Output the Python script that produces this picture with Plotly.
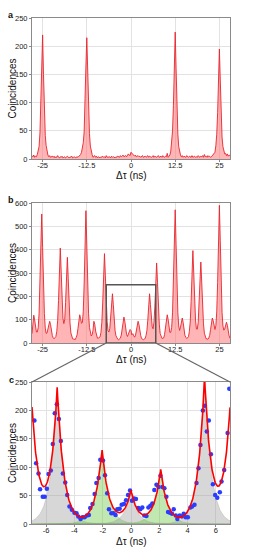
import numpy as np
import plotly.graph_objects as go

# ---------------- data ----------------
# panels a and b: histogram counts, 0.25 ns bins starting at -28 ns (rows of 2 ns)
bin_start = -28.0
bin_step = 0.25
counts_a = [
    6, 4, 7, 3, 5, 4, 8, 13,
    22, 46, 95, 175, 220, 150, 88, 42,
    24, 13, 7, 4, 6, 3, 4, 5,
    3, 5, 2, 4, 3, 6, 3, 2,
    4, 3, 5, 2, 3, 4, 2, 3,
    5, 3, 2, 4, 3, 5, 2, 3,
    4, 2, 3, 4, 3, 5, 5, 8,
    12, 19, 29, 48, 90, 165, 215, 150,
    88, 45, 23, 12, 8, 3, 4, 6,
    3, 5, 2, 4, 3, 2, 4, 3,
    5, 3, 4, 2, 6, 3, 4, 3,
    4, 2, 5, 3, 4, 3, 2, 4,
    3, 5, 4, 3, 6, 4, 5, 7,
    4, 5, 6, 4, 8, 9, 7, 6,
    12, 10, 8, 6, 5, 7, 4, 5,
    6, 4, 5, 3, 4, 6, 3, 4,
    5, 3, 4, 6, 3, 5, 4, 3,
    4, 6, 3, 5, 4, 3, 5, 6,
    3, 4, 5, 3, 6, 4, 3, 5,
    4, 10, 3, 5, 7, 14, 28, 50,
    95, 175, 225, 160, 92, 44, 22, 11,
    7, 4, 6, 3, 5, 4, 3, 6,
    4, 3, 5, 4, 3, 6, 3, 4,
    5, 3, 4, 3, 6, 4, 3, 5,
    4, 6, 3, 8, 4, 5, 3, 6,
    4, 5, 3, 4, 6, 7, 9, 12,
    24, 44, 82, 150, 195, 140, 82, 39,
    22, 12, 9, 10, 6, 9, 5, 7,
    6,
]
counts_b = [
    40, 97, 119, 99, 66, 47, 47, 66,
    125, 243, 411, 553, 410, 244, 126, 64,
    41, 43, 57, 80, 93, 79, 50, 32,
    22, 18, 23, 28, 49, 95, 182, 305,
    407, 308, 190, 106, 83, 100, 174, 278,
    367, 276, 165, 86, 43, 27, 18, 17,
    14, 15, 24, 35, 62, 96, 121, 104,
    84, 88, 136, 253, 422, 567, 420, 251,
    125, 67, 44, 30, 35, 54, 93, 80,
    51, 29, 21, 21, 22, 26, 45, 89,
    172, 289, 383, 288, 173, 93, 53, 47,
    62, 103, 167, 211, 164, 100, 52, 31,
    19, 16, 14, 18, 21, 34, 57, 92,
    111, 93, 60, 37, 28, 40, 54, 58,
    53, 35, 40, 27, 25, 31, 53, 78,
    93, 79, 49, 32, 19, 17, 14, 17,
    19, 32, 54, 98, 163, 211, 165, 107,
    69, 61, 89, 158, 261, 343, 258, 157,
    81, 41, 28, 20, 20, 22, 37, 62,
    99, 121, 101, 70, 45, 46, 67, 129,
    252, 422, 571, 422, 255, 129, 73, 54,
    68, 96, 107, 88, 55, 33, 25, 19,
    22, 27, 49, 90, 178, 295, 396, 298,
    180, 99, 60, 59, 88, 163, 264, 347,
    262, 156, 82, 42, 26, 18, 18, 16,
    22, 32, 58, 87, 107, 95, 68, 58,
    75, 133, 260, 439, 590, 438, 261, 132,
    73, 55, 60, 82, 89, 76, 49, 31,
    20,
]

# panel c: measured points
c_tau = [-6.83, -6.71, -6.54, -6.43, -6.24, -6.10, -5.95, -5.83, -5.67, -5.53,
         -5.39, -5.24, -5.10, -4.96, -4.82, -4.65, -4.51, -4.35, -4.18, -4.00,
         -3.85, -3.73, -3.57, -3.43, -3.28, -3.12, -2.98, -2.88, -2.72, -2.57,
         -2.45, -2.29, -2.17, -1.98, -1.84, -1.68, -1.56, -1.39, -1.23, -1.09,
         -0.97, -0.80, -0.66, -0.50, -0.35, -0.21, -0.07, 0.07, 0.21, 0.35,
         0.52, 0.66, 0.80, 0.94, 1.09, 1.23, 1.37, 1.51, 1.65, 1.80,
         1.94, 2.08, 2.22, 2.36, 2.50, 2.62, 2.76, 2.90, 3.02, 3.17,
         3.28, 3.45, 3.59, 3.73, 3.87, 4.02, 4.20, 4.32, 4.49, 4.63,
         4.77, 4.91, 5.08, 5.22, 5.36, 5.50, 5.65, 5.79, 5.95, 6.10,
         6.28, 6.40, 6.59, 6.83, 6.95]
c_counts = [182, 107, 89, 61, 48, 48, 62, 88, 94, 141,
            195, 211, 185, 146, 89, 73, 51, 31, 25, 20,
            19, 13, 9, 12, 12, 15, 16, 28, 35, 53,
            72, 81, 113, 112, 86, 54, 26, 19, 19, 16,
            26, 27, 34, 35, 42, 51, 59, 41, 45, 44,
            28, 26, 29, 15, 14, 29, 32, 36, 60, 69,
            65, 85, 65, 63, 48, 21, 20, 18, 26, 15,
            9, 15, 13, 18, 12, 12, 29, 31, 34, 72,
            98, 139, 200, 208, 163, 182, 123, 70, 51, 46,
            56, 75, 95, 160, 238]

# panel c: fitted peaks (centre ns, amplitude counts, component colour)
fit_centers = [-7.3, -5.22, -2.05, 0.0, 2.1, 5.2, 7.25]
fit_amps = [380, 236, 132, 57, 95, 255, 340]
fit_kind = ["none", "gray", "green", "gray", "green", "gray", "none"]
fit_decay = 0.47  # ns

xticks_ab = [-25, -12.5, 0, 12.5, 25]
xticklabels_ab = ["-25", "-12.5", "0", "12.5", "25"]
xticks_c = [-6, -4, -2, 0, 2, 4, 6]
xticklabels_c = ["-6", "-4", "-2", "0", "2", "4", "6"]

# ---------------- figure ----------------
W, H = 256, 551
FONT = "Liberation Sans, Arial, sans-serif"

xa = bin_start + bin_step * np.arange(len(counts_a))
xb = bin_start + bin_step * np.arange(len(counts_b))

line_red = "#e8242c"
fill_pink = "rgba(255,120,120,0.55)"

fig = go.Figure()
fig.add_trace(go.Scatter(x=xa, y=counts_a, mode="lines", fill="tozeroy",
                         line=dict(color=line_red, width=0.9), fillcolor=fill_pink,
                         xaxis="x", yaxis="y"))
fig.add_trace(go.Scatter(x=xb, y=counts_b, mode="lines", fill="tozeroy",
                         line=dict(color=line_red, width=0.9), fillcolor=fill_pink,
                         xaxis="x2", yaxis="y2"))

tfit = np.linspace(-7, 7, 701)
total = np.zeros_like(tfit)
for c, a, k in zip(fit_centers, fit_amps, fit_kind):
    comp = a * np.exp(-np.abs(tfit - c) / fit_decay)
    total += comp
    if k == "gray":
        fig.add_trace(go.Scatter(x=tfit, y=comp, mode="lines", fill="tozeroy",
                                 line=dict(color="rgba(150,150,150,0.6)", width=0.5),
                                 fillcolor="rgba(160,160,160,0.42)",
                                 xaxis="x3", yaxis="y3"))
    elif k == "green":
        fig.add_trace(go.Scatter(x=tfit, y=comp, mode="lines", fill="tozeroy",
                                 line=dict(color="rgba(100,190,60,0.6)", width=0.5),
                                 fillcolor="rgba(110,200,70,0.42)",
                                 xaxis="x3", yaxis="y3"))

fig.add_trace(go.Scatter(x=c_tau, y=c_counts, mode="markers",
                         marker=dict(color="#2a3cff", size=4.5),
                         xaxis="x3", yaxis="y3"))
fig.add_trace(go.Scatter(x=tfit, y=total, mode="lines",
                         line=dict(color="#ff0000", width=1.6),
                         xaxis="x3", yaxis="y3"))

x_dom = [32 / W, 230 / W]
def ydom(top, bottom):
    return [1 - bottom / H, 1 - top / H]

dom_a = ydom(18, 159)
dom_b = ydom(203, 343)
dom_c = ydom(382, 524)

axis_common = dict(showgrid=True, gridcolor="#e2e2e2", gridwidth=1,
                   showline=True, linecolor="#8a8a8a", linewidth=1, mirror=True,
                   zeroline=False, ticks="outside", ticklen=2, tickcolor="#8a8a8a",
                   automargin=False,
                   tickfont=dict(size=7.5, color="#222", family=FONT))
xaxis_extra = dict(ticklabelstandoff=-3)

range_ab = [-28, 28]
range_c = [-7, 7]
fig.update_layout(
    width=W, height=H, margin=dict(l=0, r=0, t=0, b=0, autoexpand=False),
    paper_bgcolor="white", plot_bgcolor="white", showlegend=False,
    hovermode=False,
    font=dict(family=FONT, color="#222"),
    xaxis=dict(domain=x_dom, range=range_ab, anchor="y", tickvals=xticks_ab,
               ticktext=xticklabels_ab, **axis_common, **xaxis_extra),
    yaxis=dict(domain=dom_a, range=[0, 250], anchor="x", dtick=50, **axis_common),
    xaxis2=dict(domain=x_dom, range=range_ab, anchor="y2", tickvals=xticks_ab,
                ticktext=xticklabels_ab, **axis_common, **xaxis_extra),
    yaxis2=dict(domain=dom_b, range=[0, 600], anchor="x2", dtick=100, **axis_common),
    xaxis3=dict(domain=x_dom, range=range_c, anchor="y3", tickvals=xticks_c,
                ticktext=xticklabels_c, **axis_common, **xaxis_extra),
    yaxis3=dict(domain=dom_c, range=[0, 250], anchor="x3", dtick=50, **axis_common),
)

# zoom box in panel b and connector lines to panel c
box_x = range_c
box_y = [0, 250]
fig.add_shape(type="rect", xref="x2", yref="y2", x0=box_x[0], x1=box_x[1],
              y0=box_y[0], y1=box_y[1], line=dict(color="#555", width=1.5), layer="above")

def to_paper_x(v):
    return x_dom[0] + (v - range_ab[0]) / (range_ab[1] - range_ab[0]) * (x_dom[1] - x_dom[0])

py_b_bottom = dom_b[0]
py_c_top = dom_c[1]
fig.add_shape(type="line", xref="paper", yref="paper",
              x0=to_paper_x(box_x[0]), y0=py_b_bottom, x1=x_dom[0], y1=py_c_top,
              line=dict(color="#666", width=1.2))
fig.add_shape(type="line", xref="paper", yref="paper",
              x0=to_paper_x(box_x[1]), y0=py_b_bottom, x1=x_dom[1], y1=py_c_top,
              line=dict(color="#666", width=1.2))

# titles and panel letters
def ann(text, xpx, ypx, size, angle=0, bold=False):
    fig.add_annotation(text=("<b>%s</b>" % text) if bold else text,
                       x=xpx / W, y=1 - ypx / H, xref="paper", yref="paper",
                       showarrow=False, textangle=angle,
                       font=dict(size=size, family=FONT, color="#111"),
                       xanchor="center", yanchor="middle")

for (top, bottom, xt_y, letter_y, letter) in [(18, 159, 175, 15, "a"),
                                               (203, 343, 359, 200, "b"),
                                               (382, 524, 541, 380, "c")]:
    ann("Coincidences", 12, (top + bottom) / 2, 10, angle=-90)
    ann("Δτ (ns)", 131, xt_y, 10)
    ann(letter, 11, letter_y, 9, bold=True)

fig.write_html("out.html", config={"displayModeBar": False, "staticPlot": True},
               post_script="document.body.style.margin='0';"
                           "document.body.style.overflow='hidden';")
